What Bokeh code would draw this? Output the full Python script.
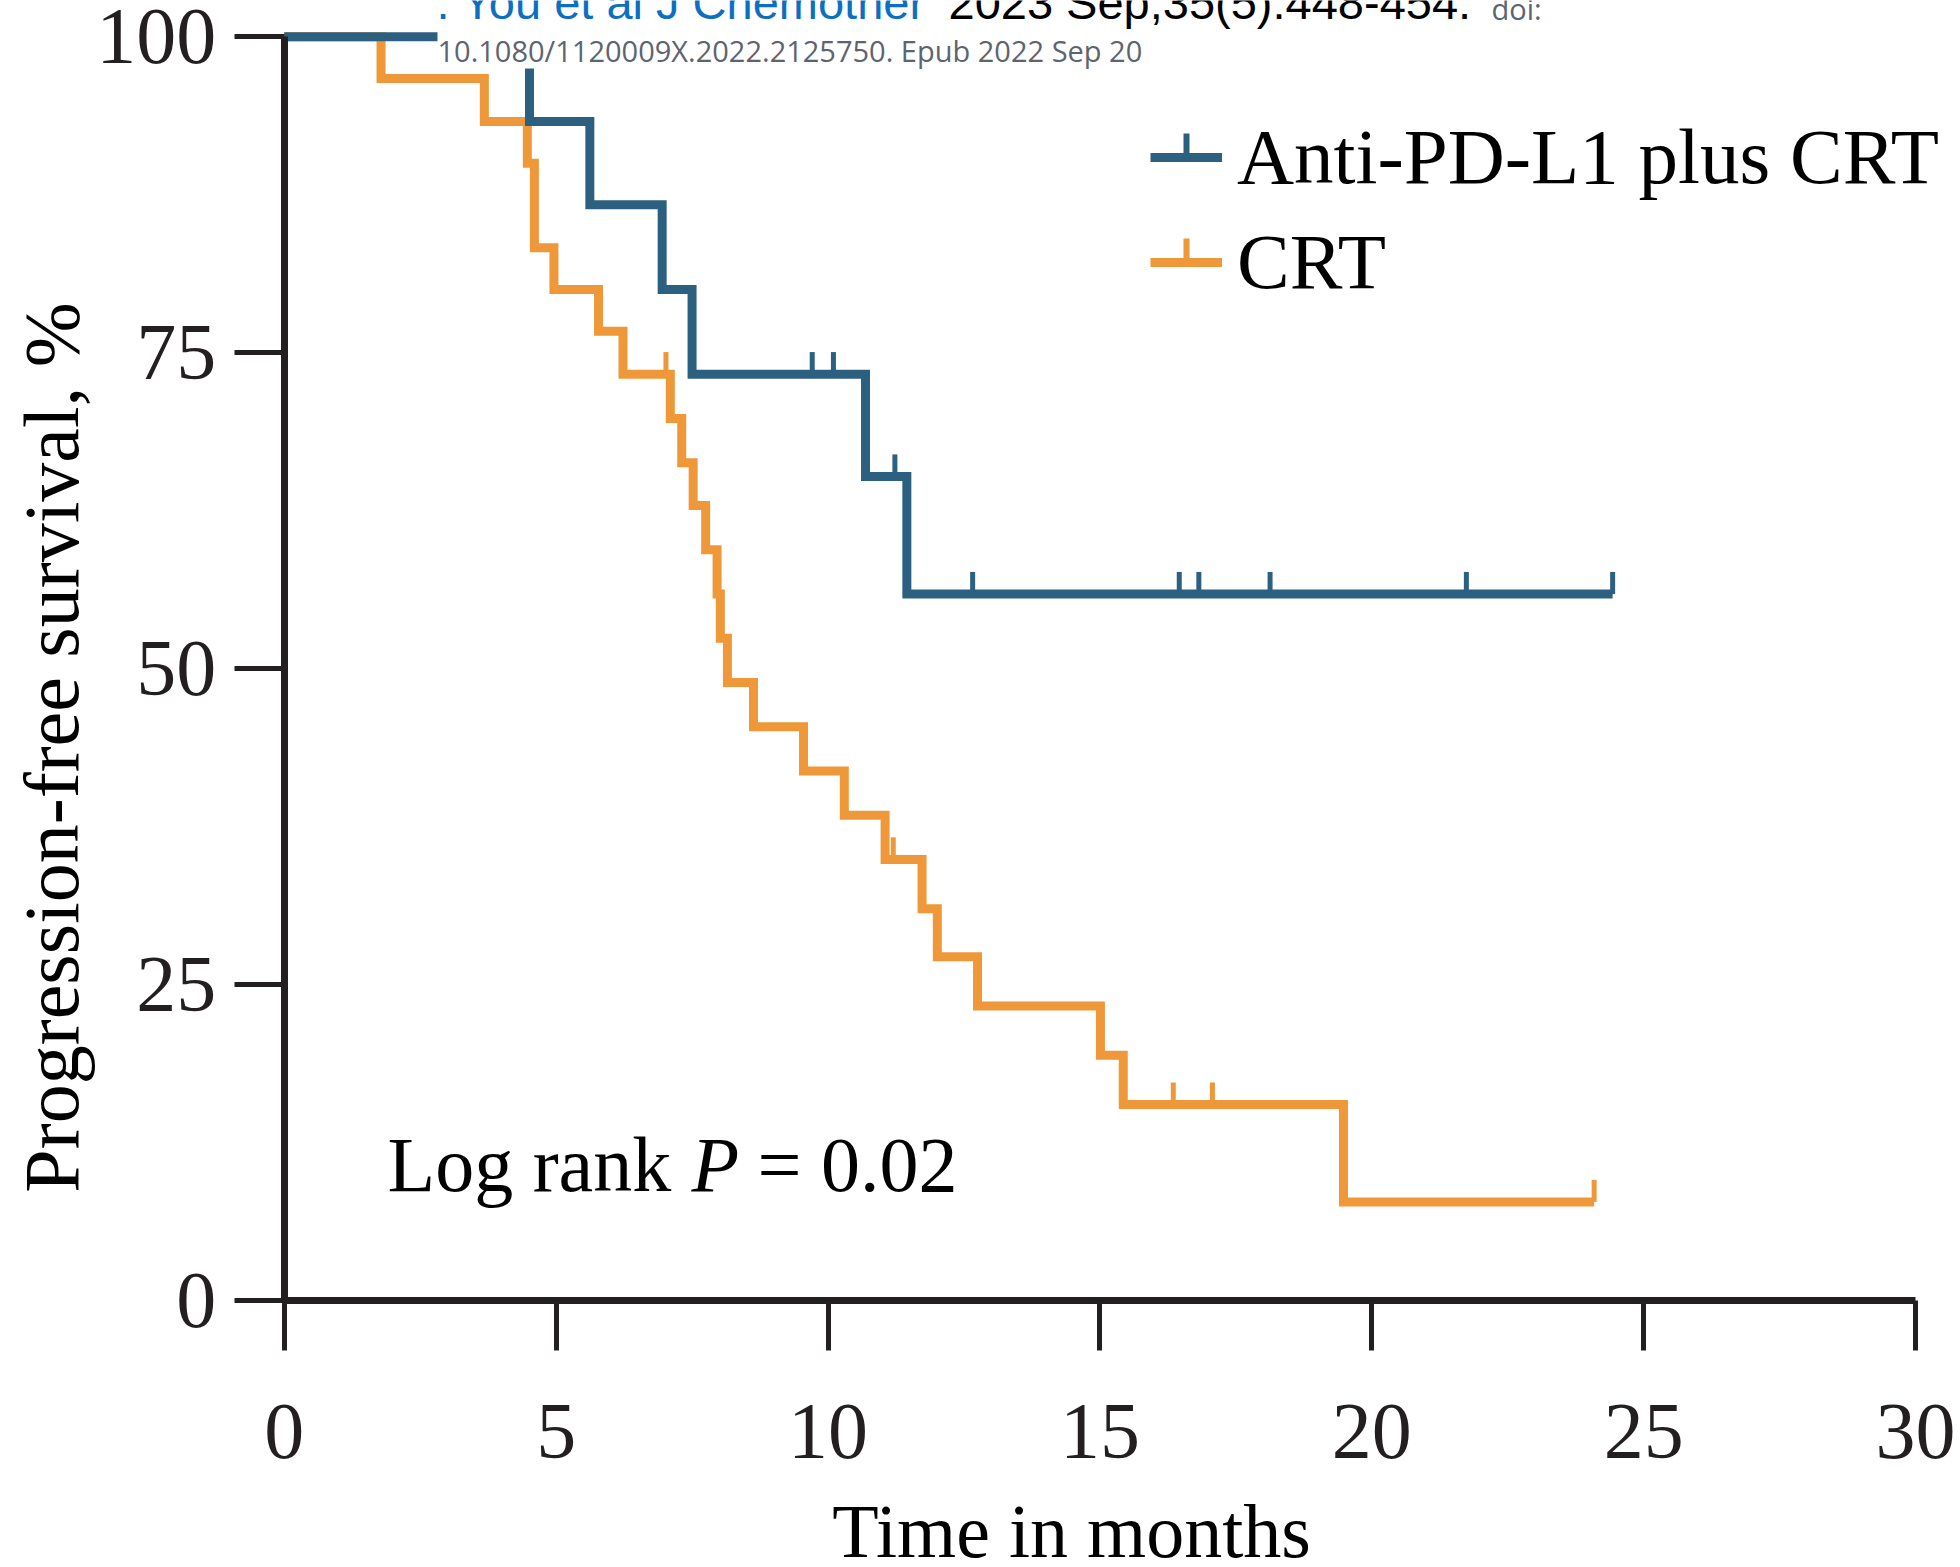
import math

from bokeh.plotting import figure
from bokeh.models import (Range1d, FixedTicker, Label, Legend, LegendItem,
                          BoxAnnotation)
from bokeh.embed import file_html
from bokeh.resources import INLINE

# ---------------- data ----------------
# Kaplan-Meier steps: time (months) where the curve changes, and the
# survival (%) from that time onward. Last entry = end of follow-up.
pdl1_time = [0, 4.51, 5.62, 6.95, 7.50, 10.69, 11.45, 24.43]
pdl1_surv = [100, 93.3, 86.7, 80.0, 73.3, 65.2, 55.9, 55.9]
pdl1_cens_time = [9.71, 10.10, 11.23, 12.66, 16.46, 16.82, 18.13, 21.74, 24.43]
pdl1_cens_surv = [73.3, 73.3, 65.2, 55.9, 55.9, 55.9, 55.9, 55.9, 55.9]

crt_time = [0, 1.78, 3.68, 4.47, 4.60, 4.96, 5.78, 6.23, 7.10, 7.31, 7.52,
            7.75, 7.96, 8.02, 8.15, 8.63, 9.55, 10.30, 11.05, 11.73, 12.01,
            12.75, 15.01, 15.43, 19.48, 24.09]
crt_surv = [100, 96.7, 93.3, 90.0, 83.3, 80.0, 76.7, 73.3, 69.8, 66.3, 62.9,
            59.4, 55.9, 52.4, 48.9, 45.4, 41.9, 38.4, 34.9, 31.0, 27.2,
            23.3, 19.4, 15.5, 7.8, 7.8]
crt_cens_time = [7.02, 11.20, 16.35, 17.07, 24.09]
crt_cens_surv = [73.3, 34.9, 15.5, 15.5, 7.8]

group_names = ["Anti-PD-L1 plus CRT", "CRT"]
x_ticks = [0, 5, 10, 15, 20, 25, 30]
y_ticks = [0, 25, 50, 75, 100]

# ---------------- layout / style ----------------
W, H = 1960, 1567
X0_PX, PX_PER_MONTH = 283.75, 54.375      # where month 0 sits, scale
Y0_PX, PX_PER_PCT = 1300.0, 12.6375        # where 0 % sits, scale
INK = "#231f20"
BLUE = "#2c6080"
ORANGE = "#ee983a"
SERIF = "Liberation Serif"
CURVE_W = 9
CENSOR_H = 1.75          # censor tick height, in survival-% units


def px_to_x(px):
    return (px - X0_PX) / PX_PER_MONTH


def px_to_y(py):
    return (Y0_PX - py) / PX_PER_PCT


# the plotting frame spans the whole canvas; axes are pinned at 0
x_range = Range1d(px_to_x(0), px_to_x(W))
y_range = Range1d(px_to_y(H), px_to_y(0))

p = figure(width=W, height=H, x_range=x_range, y_range=y_range,
           output_backend="svg", toolbar_location=None,
           min_border_left=0, min_border_right=0,
           min_border_top=0, min_border_bottom=0)
p.xgrid.visible = False
p.ygrid.visible = False
p.outline_line_color = None
p.background_fill_color = "white"
p.border_fill_color = "white"

for ax in (p.xaxis[0], p.yaxis[0]):
    ax.fixed_location = 0
    ax.axis_line_color = INK
    ax.axis_line_width = 7
    ax.major_tick_line_color = INK
    ax.major_tick_line_width = 5
    ax.major_tick_out = 50
    ax.major_tick_in = 0
    ax.minor_tick_line_color = None
    ax.major_label_text_font = SERIF
    ax.major_label_text_font_size = "80px"
    ax.major_label_text_color = INK
p.xaxis[0].bounds = (x_ticks[0], x_ticks[-1])
p.yaxis[0].bounds = (y_ticks[0], y_ticks[-1])
p.xaxis[0].ticker = FixedTicker(ticks=x_ticks)
p.yaxis[0].ticker = FixedTicker(ticks=y_ticks)
p.xaxis[0].major_label_standoff = 54
p.yaxis[0].major_label_standoff = 18

# ---------------- curves ----------------
crt_line = p.step(crt_time, crt_surv, mode="after", line_color=ORANGE,
                  line_width=CURVE_W, line_join="miter")
pdl1_line = p.step(pdl1_time, pdl1_surv, mode="after", line_color=BLUE,
                   line_width=CURVE_W, line_join="miter")

p.segment(x0=crt_cens_time, y0=crt_cens_surv, x1=crt_cens_time,
          y1=[s + CENSOR_H for s in crt_cens_surv], line_color=ORANGE, line_width=5)
p.segment(x0=pdl1_cens_time, y0=pdl1_cens_surv, x1=pdl1_cens_time,
          y1=[s + CENSOR_H for s in pdl1_cens_surv], line_color=BLUE, line_width=5)

# white box behind the citation header
p.add_layout(BoxAnnotation(left=px_to_x(437), bottom=px_to_y(68),
                           fill_color="white", fill_alpha=1.0, line_alpha=0))

# ---------------- legend ----------------
LEG_LEFT, LEG_TOP = 1150, 112
GLYPH_W, ROW_H, ROW_GAP = 72, 90, 15
leg_rows = len(group_names)
leg_height = leg_rows * ROW_H + (leg_rows - 1) * ROW_GAP

legend = Legend(items=[LegendItem(label=group_names[0], renderers=[pdl1_line]),
                       LegendItem(label=group_names[1], renderers=[crt_line])],
                location=(LEG_LEFT, H - LEG_TOP - leg_height),
                orientation="vertical",
                background_fill_alpha=0, border_line_alpha=0,
                padding=0, margin=0, spacing=ROW_GAP,
                glyph_width=GLYPH_W, glyph_height=ROW_H, label_height=ROW_H,
                label_standoff=15,
                label_text_font=SERIF, label_text_font_size="79px",
                label_text_color="black")
p.add_layout(legend)

# censor tick standing on each legend key line
key_x = px_to_x(LEG_LEFT + GLYPH_W / 2)
key_rows = [LEG_TOP + ROW_H / 2 + i * (ROW_H + ROW_GAP) for i in range(leg_rows)]
p.segment(x0=[key_x] * leg_rows, x1=[key_x] * leg_rows,
          y0=[px_to_y(r) for r in key_rows], y1=[px_to_y(r - 24) for r in key_rows],
          line_color=[BLUE, ORANGE], line_width=6)

# ---------------- texts ----------------
BASE_SHIFT = 0.33   # alphabetic baseline correction, in em


def label(text, cx, cy, size, angle=0.0, **kw):
    """Text whose baseline starts at canvas pixel (cx, cy), cy from the top."""
    opts = dict(text_font=SERIF, text_color="black", text_baseline="alphabetic")
    opts.update(kw)
    shift = BASE_SHIFT * size
    if angle:
        cx -= shift
    else:
        cy -= shift
    return Label(x=cx, y=H - cy, x_units="screen", y_units="screen",
                 text=text, text_font_size=f"{size}px", angle=angle, **opts)


p.add_layout(label("Time in months", 1071, 1556, 76, text_align="center"))
p.add_layout(label("Progression-free survival, %", 77, 747, 78,
                   angle=math.pi / 2, text_align="center"))

p.add_layout(label("Log rank", 387, 1190, 78))
p.add_layout(label("P", 691, 1190, 78, text_font_style="italic"))
p.add_layout(label("= 0.02", 757, 1190, 78))

# citation header
p.add_layout(label(". You et al J Chemother", 436, 18, 47,
                   text_font="Liberation Sans", text_color="#0d6fc0"))
p.add_layout(label("2023 Sep;35(5):448-454.", 948, 18, 47,
                   text_font="Liberation Sans", text_color="black"))
p.add_layout(label("doi:", 1491, 18, 29, text_font="Open Sans",
                   text_color="#5d6470"))
p.add_layout(label("10.1080/1120009X.2022.2125750. Epub 2022 Sep 20", 437, 60, 29,
                   text_font="Open Sans", text_color="#5d6470"))

open("out.html", "w").write(file_html(p, INLINE))
